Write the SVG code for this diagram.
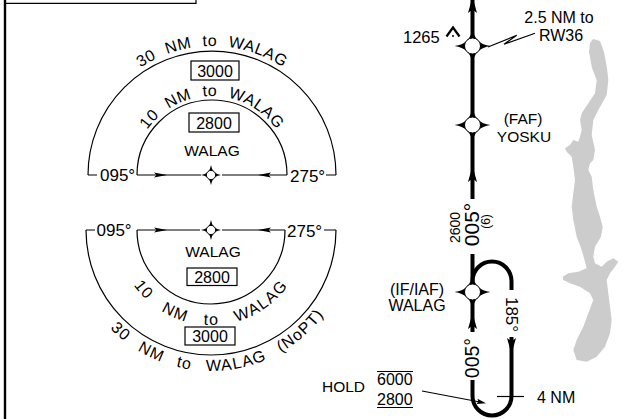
<svg xmlns="http://www.w3.org/2000/svg" width="629" height="419" viewBox="0 0 629 419">
<style>
.ln{fill:none;stroke:#000;stroke-width:1.2}
.tk{fill:none;stroke:#000;stroke-width:4}
.bx{fill:#fff;stroke:#000;stroke-width:1.2}
text{font-family:"Liberation Sans",Arial,Helvetica,sans-serif;fill:#000}
.f15{font-size:15.5px}
.f16{font-size:16px}
.f17{font-size:17px}
.arc{font-size:16px;letter-spacing:0.5px;word-spacing:6px}
.arcL{font-size:16px;letter-spacing:1.2px;word-spacing:9px}
.arcI{font-size:16px;letter-spacing:1.5px;word-spacing:11px}
</style>
<defs>
<path id="arcUO" d="M83,175 A129,129 0 0 1 341,175"/>
<path id="arcUI" d="M133,175 A79,79 0 0 1 291,175"/>
<path id="arcLI" d="M116,230 A95,95 0 0 0 306,230"/>
<path id="arcLO" d="M70,230 A141,141 0 0 0 352,230"/>
<g id="wpS"><path d="M0,-10 Q1.2,-1.2 10,0 Q1.2,1.2 0,10 Q-1.2,1.2 -10,0 Q-1.2,-1.2 0,-10Z" fill="#000"/><circle r="4.6" fill="#fff" stroke="#000" stroke-width="0.9"/></g>
<g id="wpB"><path d="M0,-18 Q2,-2 18,0 Q2,2 0,18 Q-2,2 -18,0 Q-2,-2 0,-18Z" fill="#000"/><circle r="8" fill="#fff" stroke="#000" stroke-width="1"/></g>
<path id="aUp" d="M0,0 L4.5,16 L0,12.5 L-4.5,16Z" fill="#000"/>
<path id="aS" d="M0,0 L-13,-2.6 L-10.5,0 L-13,2.6Z" fill="#000"/>
</defs>
<rect width="629" height="419" fill="#fff"/>

<g id="lake">
<path fill="#cccccc" d="M593,39 L600,41 L604,52 L607,68 L608.3,80 L606.7,95 L598.3,110 L593.3,120 L591.7,135 L595,150 L593.3,160 L590,163.3 L588.3,170 L591.7,176.7 L593.3,190 L596.7,206.7 L600,216.7 L602.7,226.7 L601,236.7 L595,246.7 L593.3,256.7 L595,263.3 L601.7,266.7 L606.7,261.7 L613.3,258.3 L618.3,261.7 L615,266.7 L610,273.3 L606.7,280 L608.3,293.3 L610,306.7 L611.7,320 L610,333.3 L605,346.7 L596.7,356.7 L586.7,361.7 L576.7,360 L573.3,350 L576.7,340 L583.3,326.7 L588.3,313.3 L593.3,300 L590,293.3 L580,286.7 L570,283.3 L563.3,280 L562.7,276.7 L568.3,273.3 L578.3,271.7 L586.7,268.3 L585,261.7 L581.7,250 L576.7,236.7 L573.3,220 L571.7,206.7 L573.3,193.3 L575,180 L573.3,166.7 L571.7,156.7 L566.7,151.7 L565,148.3 L570,145 L573.3,140 L578.3,141.7 L580,136.7 L581.7,130 L580,120 L581.7,113.3 L588.3,103.3 L595,93.3 L596.7,80 L592,68 L589,52 L590,43 Z"/>
</g>

<g id="frame">
<path d="M5,0 V419" fill="none" stroke="#000" stroke-width="2.4"/>
<path d="M5,3.3 H196 V0" class="ln"/>
</g>

<g id="connectors">
<path class="ln" d="M88,175 A124,124 0 0 1 336,175 M88,175 H97 M326,175 H336"/>
<path class="ln" d="M137,175 A75,75 0 0 1 287,175"/>
<path class="ln" d="M137,175 H201 M222,175 H287"/>
<use href="#aS" transform="translate(167,175)"/>
<use href="#aS" transform="translate(258,175) rotate(180)"/>
<path class="ln" d="M86,230 A125,125 0 0 0 336,230 M86,230 H95 M324,230 H336"/>
<path class="ln" d="M137,230 A74,74 0 0 0 285,230"/>
<path class="ln" d="M137,230 H200 M222,230 H285"/>
<use href="#aS" transform="translate(167,230)"/>
<use href="#aS" transform="translate(258,230) rotate(180)"/>
<path class="tk" d="M472.5,0 V199 M472.5,254 V332"/>
<use href="#aUp" transform="translate(472.5,-3)"/>
<use href="#aUp" transform="translate(472.5,166)"/>
<use href="#aUp" transform="translate(472.5,313)"/>
<path class="tk" d="M472.5,281 A19.5,19.5 0 0 1 511.5,281 V290"/>
<path class="tk" d="M511.5,337 V396 A19.5,19.5 0 0 1 472.5,396 V380"/>
<use href="#aUp" transform="translate(511.5,354) rotate(180)"/>
<path class="ln" d="M497,396.5 H524"/>
<path class="ln" d="M488,47 L516.7,35.3 L504,44.3 L535,33.3"/>
<path class="ln" d="M422,391 L480,402"/>
<path d="M486,403.2 L476.5,404 L478.3,401.6 L477.5,398.8Z" fill="#000"/>
</g>

<g id="taa-upper">
<use href="#wpS" transform="translate(211,175)"/>
<text class="arc"><textPath href="#arcUO" startOffset="50%" text-anchor="middle">30 NM to WALAG</textPath></text>
<text class="arc"><textPath href="#arcUI" startOffset="50%" text-anchor="middle">10 NM to WALAG</textPath></text>
<rect class="bx" x="191" y="61" width="48" height="19"/>
<text class="f16" x="215" y="76.5" text-anchor="middle">3000</text>
<rect class="bx" x="189" y="113" width="50" height="19"/>
<text class="f16" x="214" y="128.5" text-anchor="middle">2800</text>
<text class="f15" x="212" y="156" text-anchor="middle">WALAG</text>
<text class="f17" x="100" y="181">095°</text>
<text class="f17" x="290" y="181.5">275°</text>
</g>

<g id="taa-lower">
<use href="#wpS" transform="translate(211,230)"/>
<text class="f17" x="96.5" y="236">095°</text>
<text class="f17" x="287" y="236.5">275°</text>
<text class="f15" x="213" y="257" text-anchor="middle">WALAG</text>
<rect class="bx" x="187" y="268" width="50" height="17.5"/>
<text class="f16" x="212" y="282.5" text-anchor="middle">2800</text>
<text class="arcI"><textPath href="#arcLI" startOffset="50%" text-anchor="middle">10 NM to WALAG</textPath></text>
<rect class="bx" x="185" y="327" width="50" height="18"/>
<text class="f16" x="210" y="342" text-anchor="middle">3000</text>
<text class="arcL"><textPath href="#arcLO" startOffset="231" text-anchor="middle">30 NM to WALAG (NoPT)</textPath></text>
</g>

<g id="wp-rw36">
<use href="#wpB" transform="translate(472.5,46)"/>
<text font-size="16.5" x="403" y="43">1265</text>
<path d="M446.5,36.5 L453,27.5 L459.5,36.5" fill="none" stroke="#000" stroke-width="2.2"/>
<circle cx="453" cy="36" r="1" fill="#000"/>
<text class="f16" x="559" y="23" text-anchor="middle">2.5 NM to</text>
<text class="f16" x="561" y="41" text-anchor="middle">RW36</text>
</g>

<g id="wp-yosku">
<use href="#wpB" transform="translate(472.5,125)"/>
<text class="f15" x="523" y="124" text-anchor="middle">(FAF)</text>
<text class="f15" x="524" y="142" text-anchor="middle">YOSKU</text>
</g>

<g id="course-label">
<text transform="translate(460,227.5) rotate(-90)" font-size="14" text-anchor="middle">2600</text>
<text transform="translate(478.5,224.5) rotate(-90)" font-size="21" text-anchor="middle">005°</text>
<text transform="translate(490,221.5) rotate(-90)" font-size="12" text-anchor="middle">(6)</text>
</g>

<g id="wp-walag">
<use href="#wpB" transform="translate(472.5,292)"/>
<text class="f16" x="417" y="295" text-anchor="middle">(IF/IAF)</text>
<text class="f16" x="417" y="311" text-anchor="middle">WALAG</text>
</g>

<g id="hold">
<text transform="translate(478.5,358) rotate(-90)" font-size="19.5" text-anchor="middle">005°</text>
<text transform="translate(505.5,314.5) rotate(90)" font-size="17" text-anchor="middle">185°</text>
<text class="f16" x="537" y="403">4 NM</text>
<text class="f15" x="322" y="392">HOLD</text>
<text class="f16" x="377" y="385">6000</text>
<path class="ln" d="M377,371.5 H413"/>
<text class="f16" x="377" y="405">2800</text>
<path class="ln" d="M377,407.5 H413"/>
</g>
</svg>
